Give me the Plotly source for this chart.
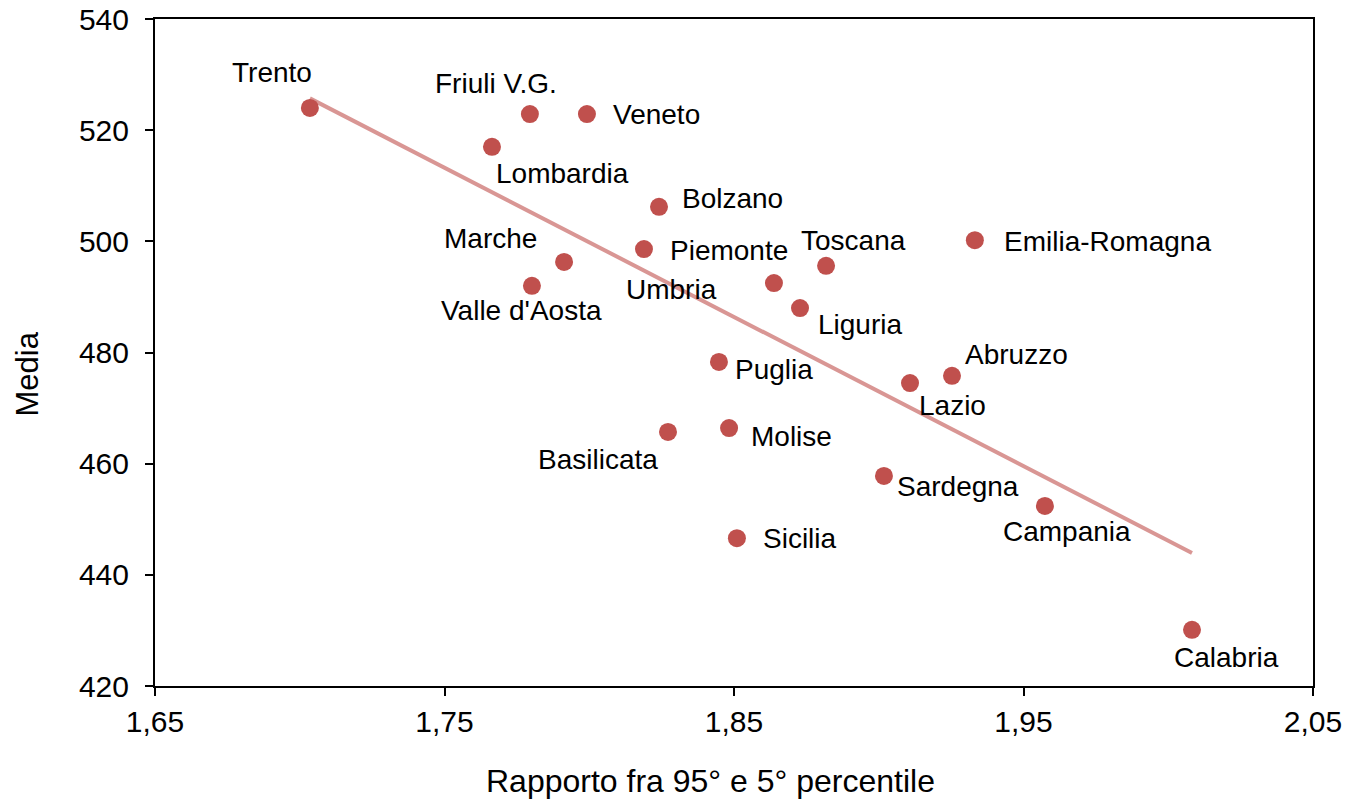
import plotly.graph_objects as go
import numpy as np

# Regioni italiane: rapporto fra 95° e 5° percentile (x) e media (y)
regioni = [
    "Trento", "Friuli V.G.", "Veneto", "Lombardia", "Bolzano", "Piemonte",
    "Marche", "Valle d'Aosta", "Umbria", "Toscana", "Emilia-Romagna",
    "Liguria", "Puglia", "Abruzzo", "Lazio", "Basilicata", "Molise",
    "Sardegna", "Campania", "Sicilia", "Calabria",
]
rapporto = [
    1.7035, 1.7795, 1.7992, 1.7664, 1.8241, 1.8189,
    1.7913, 1.7802, 1.8638, 1.8818, 1.9332,
    1.8728, 1.8448, 1.9253, 1.9108, 1.8272, 1.8483,
    1.9018, 1.9574, 1.8510, 2.0082,
]
media = [
    524.0, 522.9, 522.9, 517.0, 506.2, 498.6,
    496.3, 492.0, 492.5, 495.6, 500.2,
    488.0, 478.3, 475.8, 474.5, 465.7, 466.4,
    457.8, 452.4, 446.6, 430.1,
]

x_ticks = [1.65, 1.75, 1.85, 1.95, 2.05]
x_labels = ["1,65", "1,75", "1,85", "1,95", "2,05"]
y_ticks = [420, 440, 460, 480, 500, 520, 540]

# label offsets in pixels (dx, dy with dy positive = down)
offsets = {
    "Trento": (-38, -35), "Friuli V.G.": (-34, -31), "Veneto": (70, 0),
    "Lombardia": (71, 27), "Bolzano": (73, -8), "Piemonte": (85, 1),
    "Marche": (-74, -23), "Valle d'Aosta": (-10, 25), "Umbria": (-102, 6),
    "Toscana": (27, -25), "Emilia-Romagna": (133, 1), "Liguria": (60, 16),
    "Puglia": (55, 8), "Abruzzo": (65, -21), "Lazio": (42, 22),
    "Basilicata": (-70, 28), "Molise": (62, 8), "Sardegna": (74, 11),
    "Campania": (22, 26), "Sicilia": (63, 0), "Calabria": (35, 28),
}

FONT = "Liberation Sans, Arial, sans-serif"

x = np.array(rapporto)
y = np.array(media)
slope, intercept = np.polyfit(x, y, 1)
tx = np.array([x.min(), x.max()])
ty = slope * tx + intercept

fig = go.Figure()
fig.add_trace(go.Scatter(
    x=tx, y=ty, mode="lines",
    line=dict(color="#D99694", width=4),
    showlegend=False, hoverinfo="skip",
))
fig.add_trace(go.Scatter(
    x=rapporto, y=media, mode="markers",
    marker=dict(color="#C0504D", size=18),
    text=regioni, showlegend=False,
))

for name, xv, yv in zip(regioni, rapporto, media):
    dx, dy = offsets[name]
    fig.add_annotation(
        x=xv, y=yv, text=name, showarrow=False,
        xshift=dx, yshift=-dy,
        font=dict(family=FONT, size=28, color="black"),
    )

# axis titles placed as paper annotations
fig.add_annotation(
    xref="paper", yref="paper", x=0.48, y=-0.143,
    text="Rapporto fra 95° e 5° percentile", showarrow=False,
    xanchor="center", yanchor="middle", font=dict(family=FONT, size=32),
)
fig.add_annotation(
    xref="paper", yref="paper", x=-0.1105, y=0.467,
    text="Media", showarrow=False, textangle=-90,
    xanchor="center", yanchor="middle", font=dict(family=FONT, size=31),
)

axis_style = dict(
    showgrid=False, zeroline=False, automargin=False,
    showline=True, linecolor="black", linewidth=2, mirror=True,
    ticks="outside", ticklen=8, tickwidth=2, tickcolor="black",
    tickfont=dict(size=30), ticklabeloverflow="allow",
)

fig.update_layout(
    width=1349, height=800,
    paper_bgcolor="white", plot_bgcolor="white",
    margin=dict(l=155, r=36, t=19, b=114),
    font=dict(family=FONT, size=31, color="black"),
    xaxis=dict(range=[1.65, 2.05], tickvals=x_ticks, ticktext=x_labels, **axis_style),
    yaxis=dict(range=[420, 540], tickvals=y_ticks, ticklabelstandoff=10, **axis_style),
)

fig.write_html(
    "out.html",
    config={"displayModeBar": False},
    post_script="document.body.style.margin='0';document.body.style.overflow='hidden';",
)
